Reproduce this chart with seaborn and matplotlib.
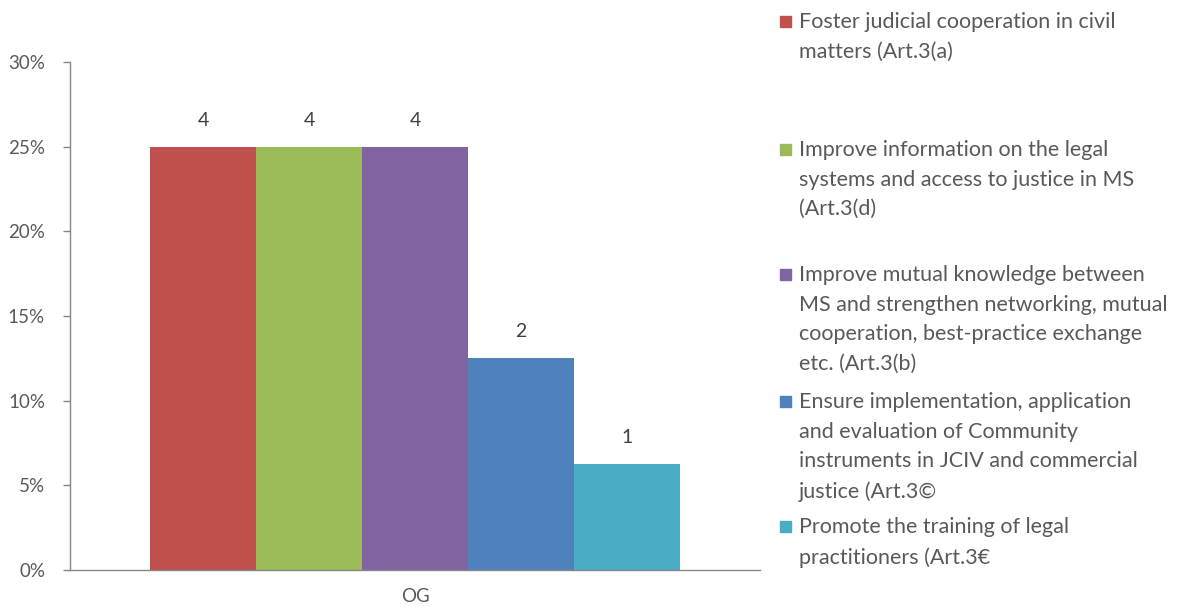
import matplotlib
matplotlib.use("Agg")
import matplotlib.pyplot as plt
import matplotlib.patches as mpatches
from matplotlib.ticker import PercentFormatter
import seaborn as sns
import pandas as pd

# Objectives addressed by the operating grants (OG)
objectives = [
    "Foster judicial cooperation in civil\nmatters (Art.3(a)",
    "Improve information on the legal\nsystems and access to justice in MS\n(Art.3(d)",
    "Improve mutual knowledge between\nMS and strengthen networking, mutual\ncooperation, best-practice exchange\netc. (Art.3(b)",
    "Ensure implementation, application\nand evaluation of Community\ninstruments in JCIV and commercial\njustice (Art.3©",
    "Promote the training of legal\npractitioners (Art.3€",
]
counts = [4, 4, 4, 2, 1]
n_projects = 16
group = "OG"
colors = ["#C0504D", "#9BBB59", "#8064A2", "#4F81BD", "#4BACC6"]
y_ticks = [0, 0.05, 0.10, 0.15, 0.20, 0.25, 0.30]

df = pd.DataFrame({
    "group": [group] * len(counts),
    "objective": objectives,
    "count": counts,
})
df["share"] = df["count"] / n_projects

sns.set_theme(style="white")
plt.rcParams["font.family"] = ["Lato", "DejaVu Sans"]

W, H = 1178, 607
fig = plt.figure(figsize=(W / 100, H / 100), dpi=100)
ax = fig.add_axes([70 / W, (H - 570) / H, (760 - 70) / W, (570 - 62) / H])

sns.barplot(data=df, x="group", y="share", hue="objective", palette=colors,
            hue_order=objectives, width=0.767, saturation=1, gap=0,
            legend=False, ax=ax, linewidth=0)

for cont, c in zip(ax.containers, counts):
    ax.bar_label(cont, labels=[str(c)], padding=13, fontsize=14, color="#404040")

ax.set_ylim(0, 0.30)
ax.set_yticks(y_ticks)
ax.yaxis.set_major_formatter(PercentFormatter(1.0, decimals=0))
ax.set_xlabel("")
ax.set_ylabel("")
for side in ["top", "right"]:
    ax.spines[side].set_visible(False)
for side in ["left", "bottom"]:
    ax.spines[side].set_color("#868686")
    ax.spines[side].set_linewidth(1.0)
ax.tick_params(axis="y", which="major", left=True, length=5, width=1,
               color="#868686", labelsize=13.5, labelcolor="#595959", pad=13)
ax.tick_params(axis="x", bottom=False, labelsize=13.5, labelcolor="#595959", pad=7)

# Legend placed as a column of evenly spaced entries to the right
entry_tops = [22, 150, 275, 402, 527]
for label, col, ytop in zip(objectives, colors, entry_tops):
    fig.patches.append(mpatches.Rectangle((780 / W, (H - ytop - 5) / H), 11 / W, 11 / H,
                                          transform=fig.transFigure, color=col))
    fig.text(799 / W, (H - ytop + 10) / H, label, fontsize=15.5, color="#595959",
             va="top", ha="left", linespacing=1.6)

fig.savefig("out.png", dpi=100)
